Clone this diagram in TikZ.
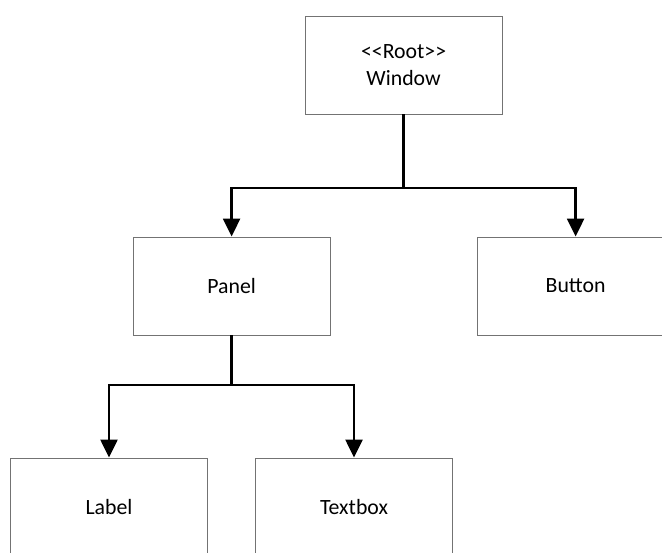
\documentclass[tikz,border=0pt]{standalone}
\usepackage{fontspec}
\newfontfamily\diagfont{Carlito}
\usetikzlibrary{arrows.meta}
\begin{document}
\begin{tikzpicture}[
    box/.style={rectangle, draw=black!55, line width=0.6pt, fill=white, minimum width=4.925cm, minimum height=2.45cm, align=center, font=\diagfont\fontsize{15.5}{19.5}\selectfont},
    conn/.style={line width=2.1pt, -{Triangle[width=0.42cm,length=0.45cm]}}
]
\clip (0,0) rectangle (16.55,-13.8);
\useasboundingbox (0,0) rectangle (16.55,-13.8);

% Корень
\node[box] (win) at (10.09, -1.625) {<\kern0pt<Root>\kern0pt>\\Window};

% Уровень 2
\node[box] (panel) at (5.79, -7.15) {Panel};
\node[box] (button) at (14.39, -7.15) {Button};

% Уровень 3
\node[box] (label) at (2.725, -12.675) {Label};
\node[box] (textbox) at (8.85, -12.675) {Textbox};

% Шины
\coordinate (bus1) at (10.09, -4.7);
\coordinate (bus2) at (5.79, -9.625);

% Рёбра от win
\draw[conn] (win.south) -- (bus1) -| (panel.north);
\draw[conn] (win.south) -- (bus1) -| (button.north);

% Рёбра от panel
\draw[conn] (panel.south) -- (bus2) -| (label.north);
\draw[conn] (panel.south) -- (bus2) -| (textbox.north);
\end{tikzpicture}
\end{document}
